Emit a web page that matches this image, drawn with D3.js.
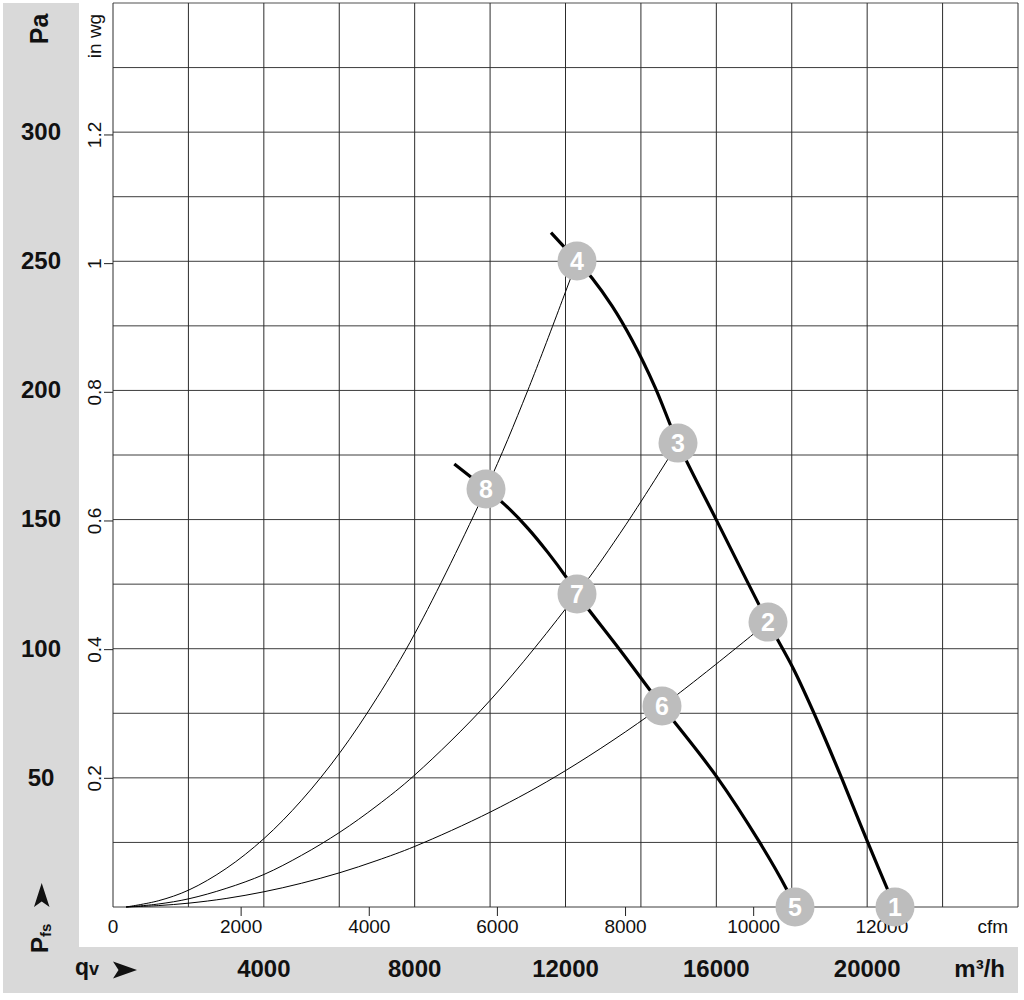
<!DOCTYPE html>
<html>
<head>
<meta charset="utf-8">
<script src="https://cdn.jsdelivr.net/npm/d3@7"></script>
<style>
  html, body { margin: 0; padding: 0; background: #fff; }
  svg { display: block; }
  text { font-family: "Liberation Sans", Arial, Helvetica, sans-serif; }
</style>
</head>
<body>
<svg id="chart" width="1024" height="1000"></svg>
<script>
// ---------------- DATA ----------------
// Axis ticks
const paTicks = [50, 100, 150, 200, 250, 300];
const inwgTicks = [0.2, 0.4, 0.6, 0.8, 1.0, 1.2];
const inwgTickLabels = ["0.2", "0.4", "0.6", "0.8", "1", "1.2"];
const cfmTicks = [0, 2000, 4000, 6000, 8000, 10000, 12000];
const m3hTicks = [4000, 8000, 12000, 16000, 20000];

// Fan curve, high speed (qv m³/h, pfs Pa)
const fanHighQ = [11615, 12305, 12703, 13233, 13764, 14373, 14983, 16017, 17370, 18033, 18669, 19332, 20022, 20738];
const fanHighP = [261.1, 250.1, 243.5, 232.7, 219.5, 201.3, 179.6, 149.4, 110.3, 92.5, 72.4, 49.6, 24.8, 0];

// Fan curve, low speed
const fanLowQ = [9051, 9892, 10396, 10979, 11536, 12013, 12305, 13445, 14559, 16017, 17158, 17874, 18086];
const fanLowP = [171.5, 161.8, 155.7, 147.0, 137.2, 127.8, 121.2, 99.5, 77.8, 50.3, 24.8, 6.6, 0];

// System curves (thin)
const sysAQ = [345, 1200, 2015, 3000, 4004, 5000, 6020, 7000, 8009, 9892, 11000, 12305];
const sysAP = [0, 2.4, 6.6, 14.9, 26.5, 41.3, 59.8, 81.0, 106.0, 161.8, 200.0, 250.1];
const sysBQ = [345, 1200, 2015, 3000, 4004, 5000, 6020, 7000, 8009, 10000, 12305, 13600, 14983];
const sysBP = [0, 1.15, 3.2, 7.2, 12.6, 20.0, 29.0, 39.2, 51.2, 80.0, 121.2, 148.0, 179.6];
const sysCQ = [345, 1200, 2015, 3000, 4004, 5000, 6020, 7000, 8009, 10024, 12000, 14559, 17370];
const sysCP = [0, 0.55, 1.5, 3.3, 5.9, 9.2, 13.3, 18.0, 23.5, 36.9, 52.8, 77.8, 110.3];

// Operating points
const pointIds = ["1", "2", "3", "4", "5", "6", "7", "8"];
const pointQ = [20738, 17370, 14983, 12305, 18086, 14559, 12305, 9892];
const pointP = [0, 110.3, 179.6, 250.1, 0, 77.8, 121.2, 161.8];

// ---------------- CHART ----------------
const svg = d3.select("#chart");
const W = 1024, H = 1000;
const plot = { left: 113, right: 1018, top: 3, bottom: 907 };

const x = d3.scaleLinear().domain([0, 24000]).range([plot.left, plot.right]);
const xCfm = d3.scaleLinear().domain([0, 24000 / 1.699011]).range([plot.left, plot.right]);
const y = d3.scaleLinear().domain([0, 350]).range([plot.bottom, plot.top]);
const yInwg = d3.scaleLinear().domain([0, 350 / 249.089]).range([plot.bottom, plot.top]);

const GRAY = "#d9d9d9";
svg.append("rect").attr("width", W).attr("height", H).attr("fill", "#fff");
// gray bands
svg.append("rect").attr("x", 3).attr("y", 3).attr("width", 76).attr("height", 990).attr("fill", GRAY);
svg.append("rect").attr("x", 3).attr("y", 947).attr("width", 1015).attr("height", 46).attr("fill", GRAY);

// grid
const grid = svg.append("g");
grid.selectAll("line.h").data(d3.range(0, 351, 25)).join("line")
  .attr("x1", plot.left).attr("x2", plot.right)
  .attr("y1", d => y(d)).attr("y2", d => y(d))
  .attr("stroke", d => (d === 350 ? "#8a8a8a" : "#3c3c3c"))
  .attr("stroke-width", d => (d === 350 ? 1.6 : 1));
grid.selectAll("line.v").data(d3.range(0, 24001, 2000)).join("line")
  .attr("y1", plot.top).attr("y2", plot.bottom)
  .attr("x1", d => x(d)).attr("x2", d => x(d))
  .attr("stroke", "#2c2c2c").attr("stroke-width", 1);

// in wg ticks + labels
const inwg = svg.append("g");
inwg.selectAll("line").data(inwgTicks).join("line")
  .attr("x1", 104).attr("x2", plot.left)
  .attr("y1", d => yInwg(d)).attr("y2", d => yInwg(d))
  .attr("stroke", "#222").attr("stroke-width", 1);
inwg.selectAll("text").data(inwgTicks).join("text")
  .attr("transform", d => `translate(101,${yInwg(d)}) rotate(-90)`)
  .attr("text-anchor", "middle")
  .attr("font-size", 19).attr("fill", "#111")
  .text((d, i) => inwgTickLabels[i]);
svg.append("text")
  .attr("transform", "translate(101,36) rotate(-90)")
  .attr("text-anchor", "middle").attr("font-size", 19).attr("fill", "#111")
  .text("in wg");

// Pa labels
svg.selectAll("text.pa").data(paTicks).join("text")
  .attr("class", "pa")
  .attr("x", 41).attr("y", d => y(d)).attr("dy", "0.33em")
  .attr("text-anchor", "middle").attr("font-size", 24).attr("font-weight", "bold").attr("fill", "#111")
  .text(d => d);
svg.append("text")
  .attr("transform", "translate(48,29) rotate(-90)")
  .attr("text-anchor", "middle").attr("font-size", 25).attr("font-weight", "bold").attr("fill", "#111")
  .text("Pa");

// cfm ticks + labels
const cfm = svg.append("g");
cfm.selectAll("line").data(cfmTicks.filter(d => d > 0)).join("line")
  .attr("x1", d => xCfm(d)).attr("x2", d => xCfm(d))
  .attr("y1", plot.bottom).attr("y2", 916)
  .attr("stroke", "#222").attr("stroke-width", 1);
cfm.selectAll("text").data(cfmTicks).join("text")
  .attr("x", d => xCfm(d)).attr("y", 933)
  .attr("text-anchor", "middle").attr("font-size", 19).attr("fill", "#111")
  .text(d => d);
svg.append("text").attr("x", 1008).attr("y", 933).attr("text-anchor", "end")
  .attr("font-size", 19).attr("fill", "#111").text("cfm");

// m³/h labels
svg.selectAll("text.m3h").data(m3hTicks).join("text")
  .attr("class", "m3h")
  .attr("x", d => x(d)).attr("y", 977)
  .attr("text-anchor", "middle").attr("font-size", 24).attr("font-weight", "bold").attr("fill", "#111")
  .text(d => d);
svg.append("text").attr("x", 1005).attr("y", 977).attr("text-anchor", "end")
  .attr("font-size", 24).attr("font-weight", "bold").attr("fill", "#111")
  .text("m³/h");

// qv label + arrow
const qv = svg.append("text").attr("x", 75).attr("y", 975)
  .attr("font-size", 23).attr("font-weight", "bold").attr("fill", "#111");
qv.append("tspan").text("q");
qv.append("tspan").attr("font-size", 18).text("v");
svg.append("path")
  .attr("d", "M113,961.5 L137,970 L113,978.5 L118.5,970 Z")
  .attr("fill", "#111");

// Pfs label + arrow
const pfs = svg.append("text")
  .attr("transform", "translate(48,953) rotate(-90)")
  .attr("font-size", 24).attr("font-weight", "bold").attr("fill", "#111");
pfs.append("tspan").text("P");
pfs.append("tspan").attr("font-size", 15).attr("dy", 3).text("fs");
svg.append("path")
  .attr("d", "M41.7,883 L49.5,907 L41.7,901.5 L34,907 Z")
  .attr("fill", "#111");

// curves
const line = d3.line().x(d => x(d[0])).y(d => y(d[1])).curve(d3.curveCatmullRom.alpha(0.5));
const zip = (a, b) => a.map((v, i) => [v, b[i]]);

const curves = svg.append("g").attr("fill", "none").attr("stroke", "#000");
[[sysAQ, sysAP], [sysBQ, sysBP], [sysCQ, sysCP]].forEach(([q, p]) => {
  curves.append("path").attr("d", line(zip(q, p))).attr("stroke-width", 1);
});
[[fanHighQ, fanHighP], [fanLowQ, fanLowP]].forEach(([q, p]) => {
  curves.append("path").attr("d", line(zip(q, p))).attr("stroke-width", 3.2);
});

// operating points
const pts = svg.append("g").selectAll("g").data(pointIds).join("g")
  .attr("transform", (d, i) => `translate(${x(pointQ[i])},${y(pointP[i])})`);
pts.append("circle").attr("r", 19.5).attr("fill", "#bdbdbd");
pts.append("text").attr("text-anchor", "middle").attr("dy", "0.36em")
  .attr("font-size", 25).attr("font-weight", "bold").attr("fill", "#fff")
  .text(d => d);
</script>
</body>
</html>
